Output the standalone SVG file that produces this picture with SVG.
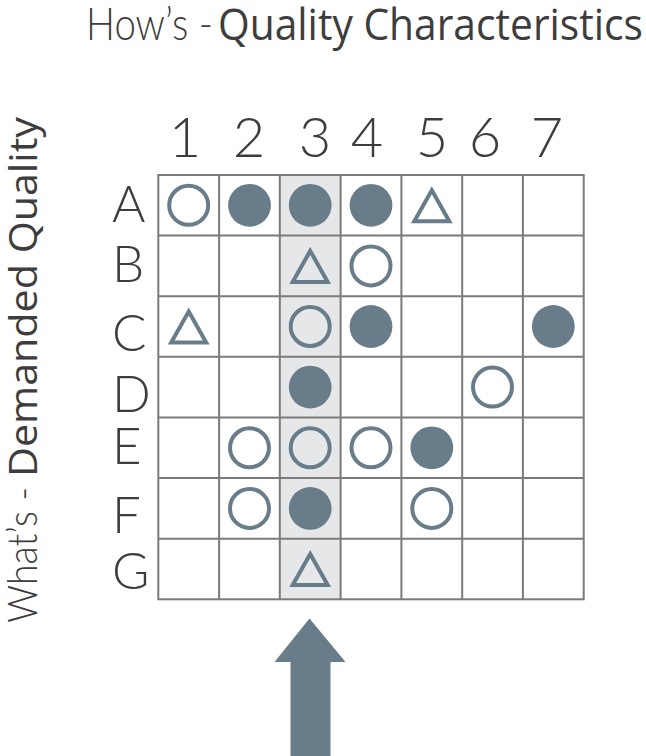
<svg xmlns="http://www.w3.org/2000/svg" width="646" height="756" viewBox="0 0 646 756">
<style>
.lt{font-family:Lato,"Source Sans Pro","Open Sans","Liberation Sans",sans-serif;font-weight:300;fill:#3d3d3d}
.md{font-family:"Open Sans","Noto Sans","Liberation Sans",sans-serif;font-weight:400;fill:#3d3d3d}
.num{font-size:56px;text-anchor:middle}
.let{font-size:51px}
.grid{stroke:#7b7b7b;stroke-width:2;fill:none}
.f{fill:#687c89}
.o{fill:none;stroke:#687c89;stroke-width:4}
.t{fill:none;stroke:#687c89;stroke-width:4;stroke-linejoin:miter}
</style>
<defs>
<circle id="full" r="21.4" class="f"/>
<circle id="open" r="19.5" class="o"/>
<path id="tri" d="M0,-15 L17.5,16 L-17.5,16 Z" class="t"/>
</defs>
<rect width="646" height="756" fill="#ffffff"/>
<g id="title">
<text class="lt" x="86" y="40" font-size="46" textLength="127" lengthAdjust="spacingAndGlyphs">How’s -</text>
<text class="md" x="218" y="40" font-size="44" textLength="425" lengthAdjust="spacingAndGlyphs">Quality Characteristics</text>
</g>
<g id="side-title" transform="translate(37,623) rotate(-90)">
<text class="lt" x="0" y="0" font-size="41" textLength="136" lengthAdjust="spacingAndGlyphs">What’s -</text>
<text class="md" x="146" y="0" font-size="39" textLength="360" lengthAdjust="spacingAndGlyphs">Demanded Quality</text>
</g>
<g id="col-labels" class="lt num">
<text x="185" y="156.7">1</text>
<text x="249" y="156.7">2</text>
<text x="315" y="156.7">3</text>
<text x="367" y="156.7">4</text>
<text x="432" y="156.7">5</text>
<text x="485" y="156.7">6</text>
<text x="547" y="156.7">7</text>
</g>
<g id="row-labels" class="lt let">
<text x="112" y="221.7">A</text>
<text x="112" y="281.7">B</text>
<text x="112" y="350.5">C</text>
<text x="112" y="411.7">D</text>
<text x="112" y="464">E</text>
<text x="112" y="533">F</text>
<text x="112" y="588.5">G</text>
</g>
<g id="matrix">
<rect x="279.8" y="175" width="60.8" height="424.3" fill="#e6e7e8"/>
<rect x="158.3" y="175" width="425.4" height="424.3" class="grid"/>
<path class="grid" d="M219.1,175V599.3M279.8,175V599.3M340.6,175V599.3M401.4,175V599.3M462.2,175V599.3M522.9,175V599.3M158.3,235.6H583.7M158.3,296.2H583.7M158.3,356.8H583.7M158.3,417.4H583.7M158.3,478.1H583.7M158.3,538.7H583.7"/>
</g>
<g id="symbols">
<use href="#open" x="188.7" y="205.3"/>
<use href="#full" x="249.5" y="205.3"/>
<use href="#full" x="310.2" y="205.3"/>
<use href="#full" x="371" y="205.3"/>
<use href="#tri" x="431.8" y="205.3"/>
<use href="#tri" x="310.2" y="265.9"/>
<use href="#open" x="371" y="265.9"/>
<use href="#tri" x="188.7" y="326.5"/>
<use href="#open" x="310.2" y="326.5"/>
<use href="#full" x="371" y="326.5"/>
<use href="#full" x="553.3" y="326.5"/>
<use href="#full" x="310.2" y="387.1"/>
<use href="#open" x="492.5" y="387.1"/>
<use href="#open" x="249.5" y="447.8"/>
<use href="#open" x="310.2" y="447.8"/>
<use href="#open" x="371" y="447.8"/>
<use href="#full" x="431.8" y="447.8"/>
<use href="#open" x="249.5" y="508.4"/>
<use href="#full" x="310.2" y="508.4"/>
<use href="#open" x="431.8" y="508.4"/>
<use href="#tri" x="310.2" y="569"/>
</g>
<g id="connectors">
<polygon id="arrow" points="309.5,618.5 345.5,662 330.5,662 330.5,756 290.5,756 290.5,662 274.5,662" fill="#687c89"/>
</g>
</svg>
